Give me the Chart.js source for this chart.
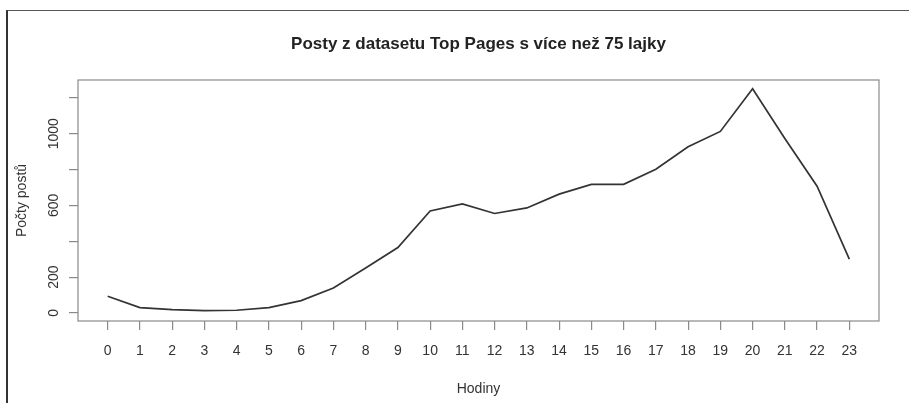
<!DOCTYPE html>
<html><head><meta charset="utf-8">
<script src="https://cdn.jsdelivr.net/npm/chart.js@4"></script>
<style>
html,body{margin:0;padding:0;background:#fff;}
#wrap{position:relative;width:909px;height:403px;overflow:hidden;}
#frame{position:absolute;left:6px;top:10px;width:920px;height:420px;border-top:1.5px solid #555;border-left:2px solid #333;pointer-events:none;}
canvas{position:absolute;left:0;top:0;}
</style></head><body>
<div id="wrap"><canvas id="c" width="909" height="403"></canvas><div id="frame"></div></div>
<script>
const hours = [0,1,2,3,4,5,6,7,8,9,10,11,12,13,14,15,16,17,18,19,20,21,22,23];
const postCounts = [93,30,18,13,15,30,69,139,251,365,569,608,555,586,663,717,718,802,927,1013,1251,974,707,300];
const xTickValues = hours;
const yTickValues = [0,200,400,600,800,1000,1200];
const yTickLabelsShown = [0,200,600,1000];
const chartTitle = 'Posty z datasetu Top Pages s více než 75 lajky';
const xTitle = 'Hodiny';
const yTitle = 'Počty postů';

const FONT = "'Liberation Sans', Arial, Helvetica, sans-serif";
const textColor = '#333';
const axisGray = '#8a8a8a';

const boxPlugin = {
  id: 'box',
  beforeDatasetsDraw(chart) {
    const {ctx, chartArea: a} = chart;
    ctx.save();
    ctx.strokeStyle = axisGray;
    ctx.lineWidth = 1.2;
    ctx.strokeRect(a.left, a.top, a.right - a.left, a.bottom - a.top);
    ctx.restore();
  }
};

new Chart(document.getElementById('c'), {
  type: 'line',
  data: {
    datasets: [{
      data: hours.map((h, i) => ({x: h, y: postCounts[i]})),
      borderColor: '#333',
      borderWidth: 1.7,
      pointRadius: 0,
      tension: 0,
      fill: false
    }]
  },
  options: {
    responsive: false,
    animation: false,
    devicePixelRatio: 1,
    layout: {padding: {top: 0, right: 30, left: 0, bottom: 0}},
    plugins: {
      legend: {display: false},
      tooltip: {enabled: false},
      title: {
        display: true,
        text: chartTitle,
        fullSize: false,
        color: '#222',
        font: {family: FONT, size: 17, weight: 'bold', lineHeight: 1.2},
        padding: {top: 34, bottom: 25.6}
      }
    },
    scales: {
      x: {
        type: 'linear',
        min: -0.92,
        max: 23.92,
        afterBuildTicks: s => { s.ticks = xTickValues.map(v => ({value: v})); },
        afterFit: s => { s.height = 82; },
        grid: {drawOnChartArea: false, drawTicks: true, tickLength: 9, color: axisGray, lineWidth: 1.2},
        border: {display: false},
        ticks: {
          color: textColor, font: {family: FONT, size: 14}, padding: 13,
          maxRotation: 0, minRotation: 0, autoSkip: false,
          callback: v => String(v)
        },
        title: {display: true, text: xTitle, color: textColor, font: {family: FONT, size: 14}, padding: {top: 0, bottom: 5}}
      },
      y: {
        type: 'linear',
        min: -45,
        max: 1300,
        afterBuildTicks: s => { s.ticks = yTickValues.map(v => ({value: v})); },
        afterFit: s => { s.width = 78; },
        grid: {drawOnChartArea: false, drawTicks: true, tickLength: 9, color: axisGray, lineWidth: 1.2},
        border: {display: false},
        ticks: {
          color: textColor, font: {family: FONT, size: 14}, padding: -1,
          minRotation: 90, maxRotation: 90, crossAlign: 'center', autoSkip: false,
          callback: v => yTickLabelsShown.includes(v) ? String(v) : ''
        },
        title: {display: true, text: yTitle, color: textColor, font: {family: FONT, size: 14}, padding: {top: 14, bottom: 0}}
      }
    }
  },
  plugins: [boxPlugin]
});
</script>
</body></html>
